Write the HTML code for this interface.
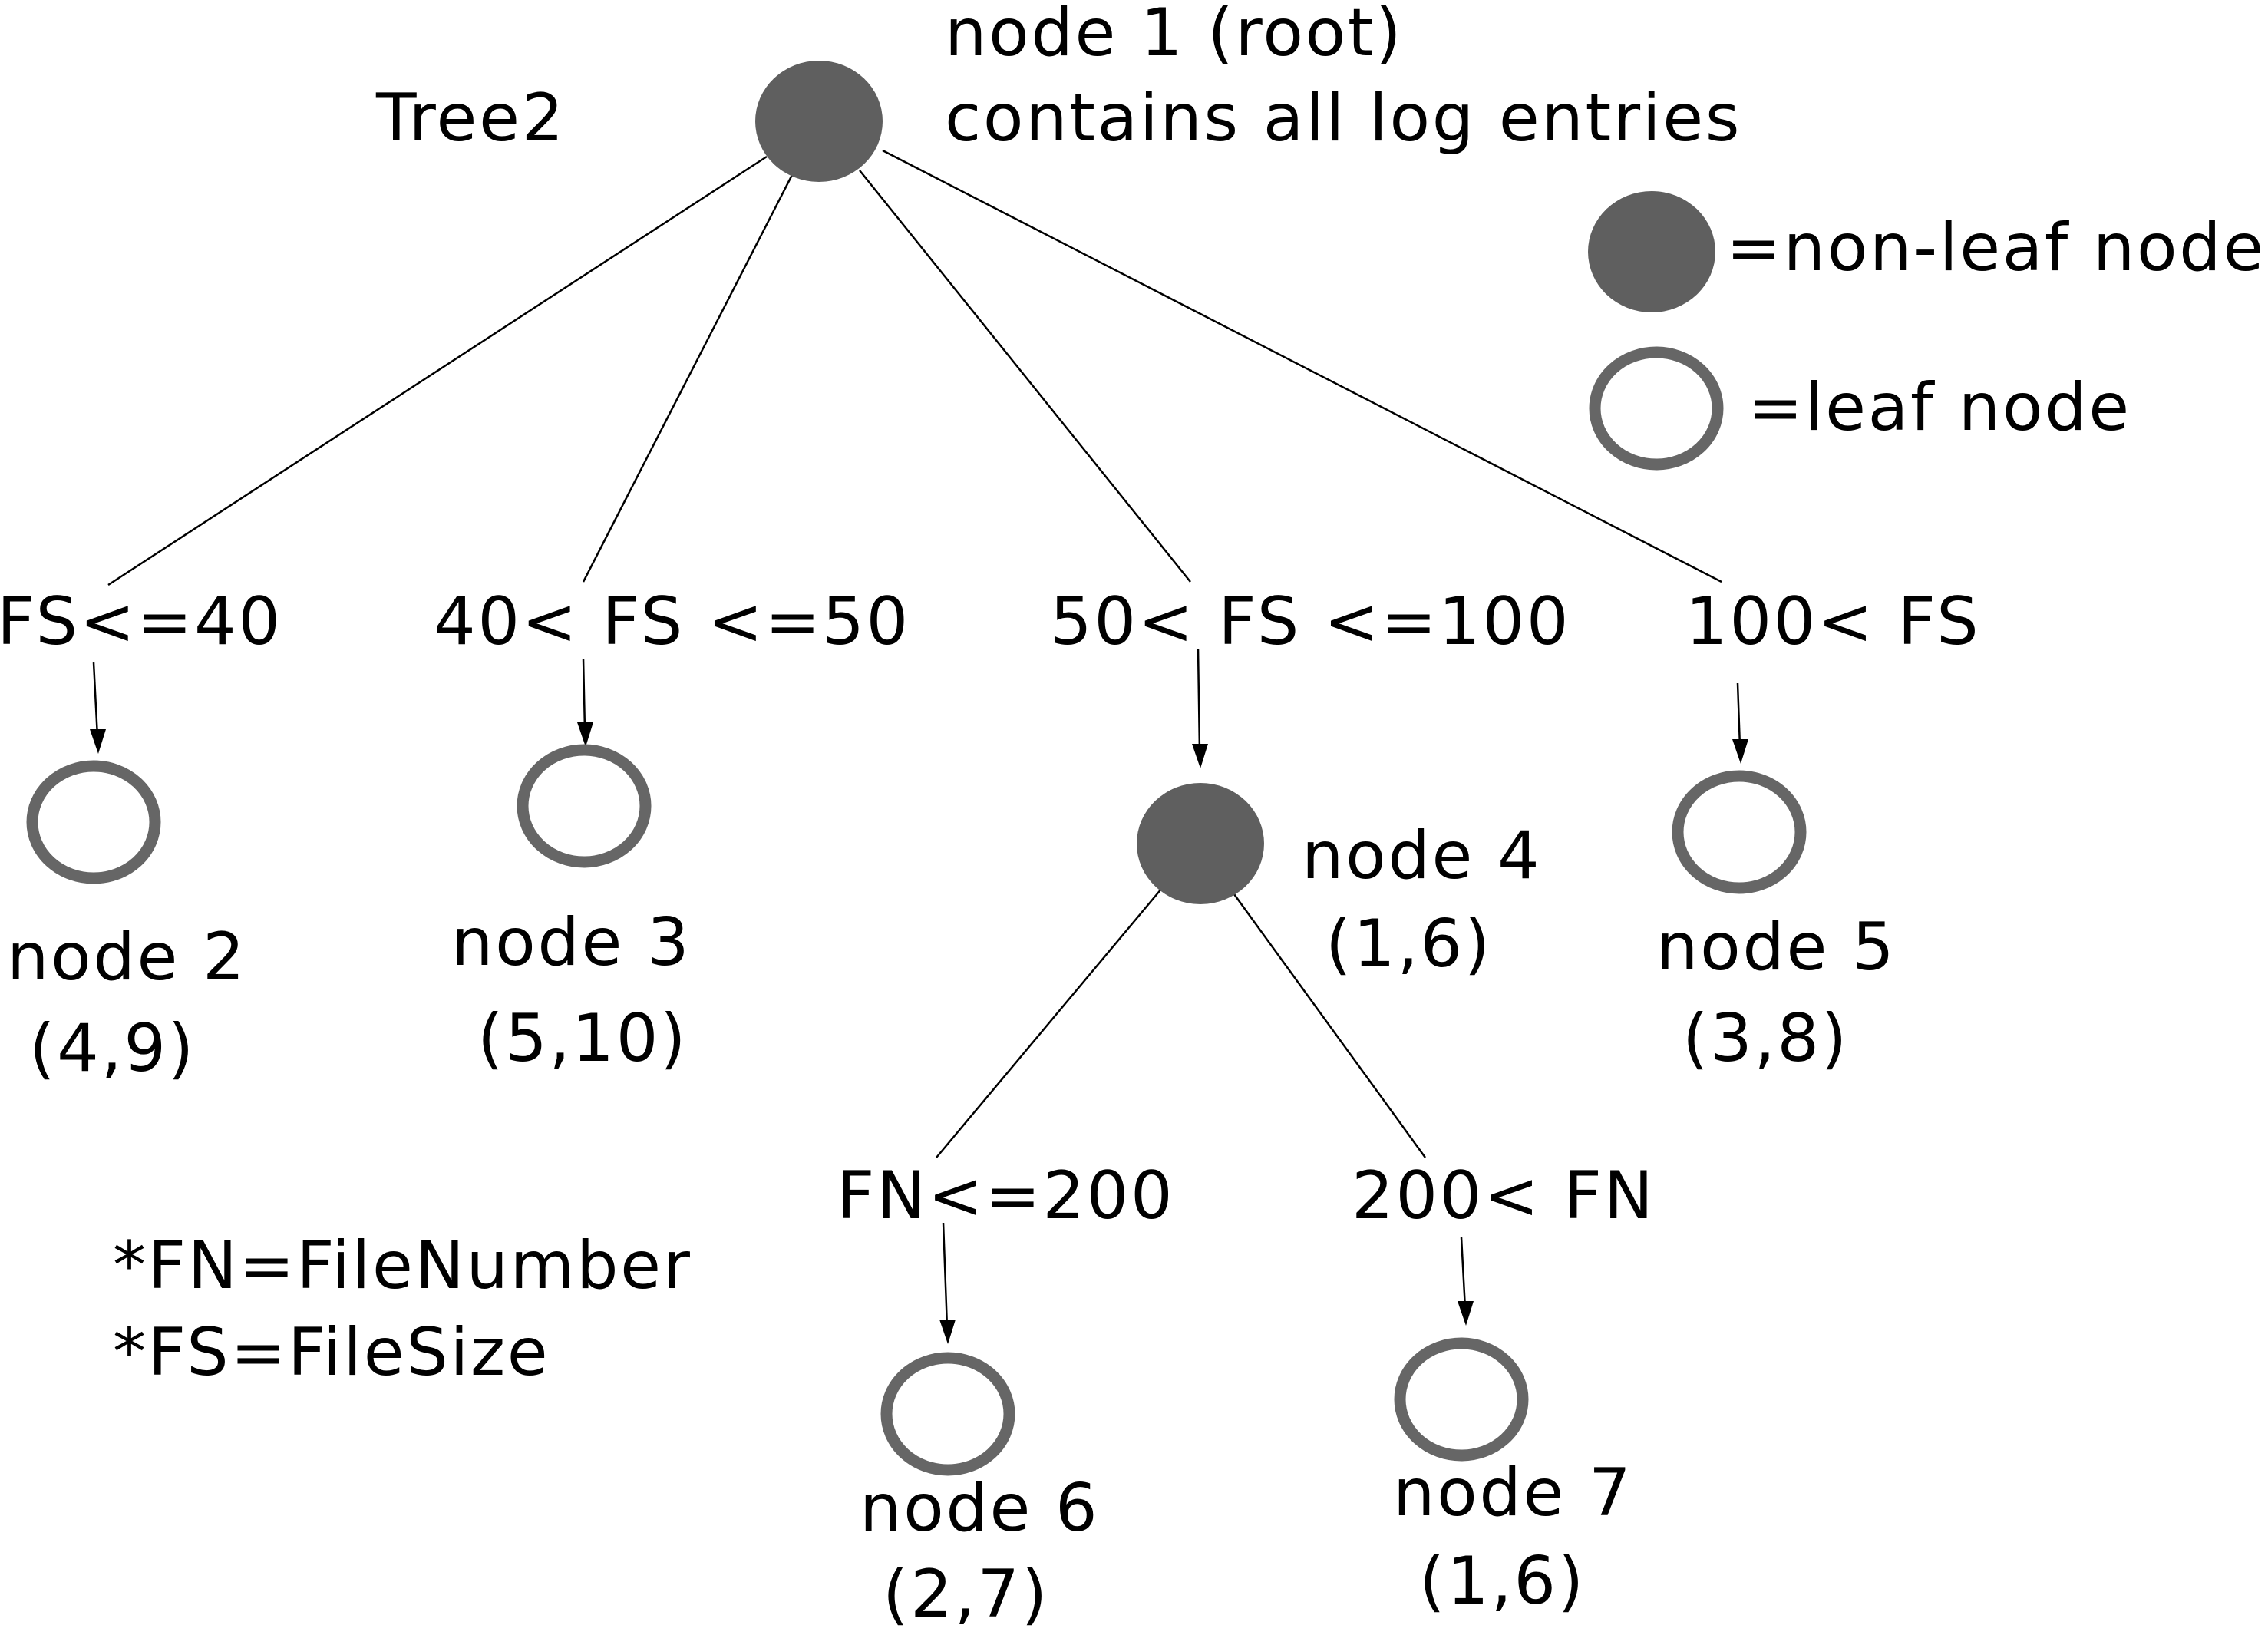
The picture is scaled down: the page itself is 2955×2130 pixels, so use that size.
<!DOCTYPE html>
<html><head><meta charset="utf-8"><style>
html,body{margin:0;padding:0;background:#fff;}
svg{display:block;}
text{font-family:"DejaVu Sans","Liberation Sans",sans-serif;font-size:86px;letter-spacing:2.6px;fill:#000;}
</style></head><body>
<svg width="2955" height="2130" viewBox="0 0 2955 2130" xmlns="http://www.w3.org/2000/svg">
<g stroke="#000" stroke-width="2.5" fill="none">
<line x1="999" y1="204" x2="141" y2="762"/>
<line x1="1033" y1="226" x2="760" y2="758"/>
<line x1="1120" y1="222" x2="1551" y2="758"/>
<line x1="1150" y1="196" x2="2243" y2="758"/>
<line x1="1514" y1="1157" x2="1220" y2="1508"/>
<line x1="1608" y1="1165" x2="1857" y2="1508"/>
<line x1="122" y1="863" x2="127" y2="960"/>
<line x1="760" y1="858" x2="762" y2="951"/>
<line x1="1561" y1="845" x2="1563" y2="979"/>
<line x1="2264" y1="890" x2="2267" y2="973"/>
<line x1="1229" y1="1593" x2="1234" y2="1729"/>
<line x1="1904" y1="1612" x2="1909" y2="1705"/>
</g>
<g fill="#000">
<polygon points="128,982 117,950 138,950"/>
<polygon points="763,973 752,941 773,941"/>
<polygon points="1564,1001 1553,969 1574,969"/>
<polygon points="2268,995 2257,963 2278,963"/>
<polygon points="1235,1751 1224,1719 1245,1719"/>
<polygon points="1910,1727 1899,1695 1920,1695"/>
</g>
<g fill="#5f5f5f">
<ellipse cx="1067" cy="158" rx="83" ry="79"/>
<ellipse cx="2152" cy="328" rx="83" ry="79"/>
<ellipse cx="1564" cy="1099" rx="83" ry="79"/>
</g>
<g fill="#fff" stroke="#666" stroke-width="15">
<ellipse cx="2158" cy="532" rx="80" ry="73"/>
<ellipse cx="122" cy="1071" rx="80" ry="73"/>
<ellipse cx="761" cy="1050" rx="80" ry="73"/>
<ellipse cx="2266" cy="1084" rx="80" ry="73"/>
<ellipse cx="1235" cy="1842" rx="80" ry="73"/>
<ellipse cx="1904" cy="1823" rx="80" ry="73"/>
</g>
<text x="1231" y="72">node 1 (root)</text>
<text x="1231" y="183">contains all log entries</text>
<text x="490" y="183">Tree2</text>
<text x="2249" y="352">=non-leaf node</text>
<text x="2277" y="560">=leaf node</text>
<text x="-4" y="839">FS&lt;=40</text>
<text x="565" y="839">40&lt; FS &lt;=50</text>
<text x="1368" y="839">50&lt; FS &lt;=100</text>
<text x="2196" y="839">100&lt; FS</text>
<text x="9" y="1276">node 2</text>
<text x="38" y="1395">(4,9)</text>
<text x="588" y="1257">node 3</text>
<text x="622" y="1382">(5,10)</text>
<text x="1696" y="1144">node 4</text>
<text x="1727" y="1259">(1,6)</text>
<text x="2158" y="1263">node 5</text>
<text x="2192" y="1382">(3,8)</text>
<text x="1090" y="1587">FN&lt;=200</text>
<text x="1761" y="1587">200&lt; FN</text>
<text x="147" y="1678">*FN=FileNumber</text>
<text x="147" y="1791">*FS=FileSize</text>
<text x="1120" y="1994">node 6</text>
<text x="1150" y="2106">(2,7)</text>
<text x="1815" y="1974">node 7</text>
<text x="1849" y="2089">(1,6)</text>
</svg>
</body></html>
